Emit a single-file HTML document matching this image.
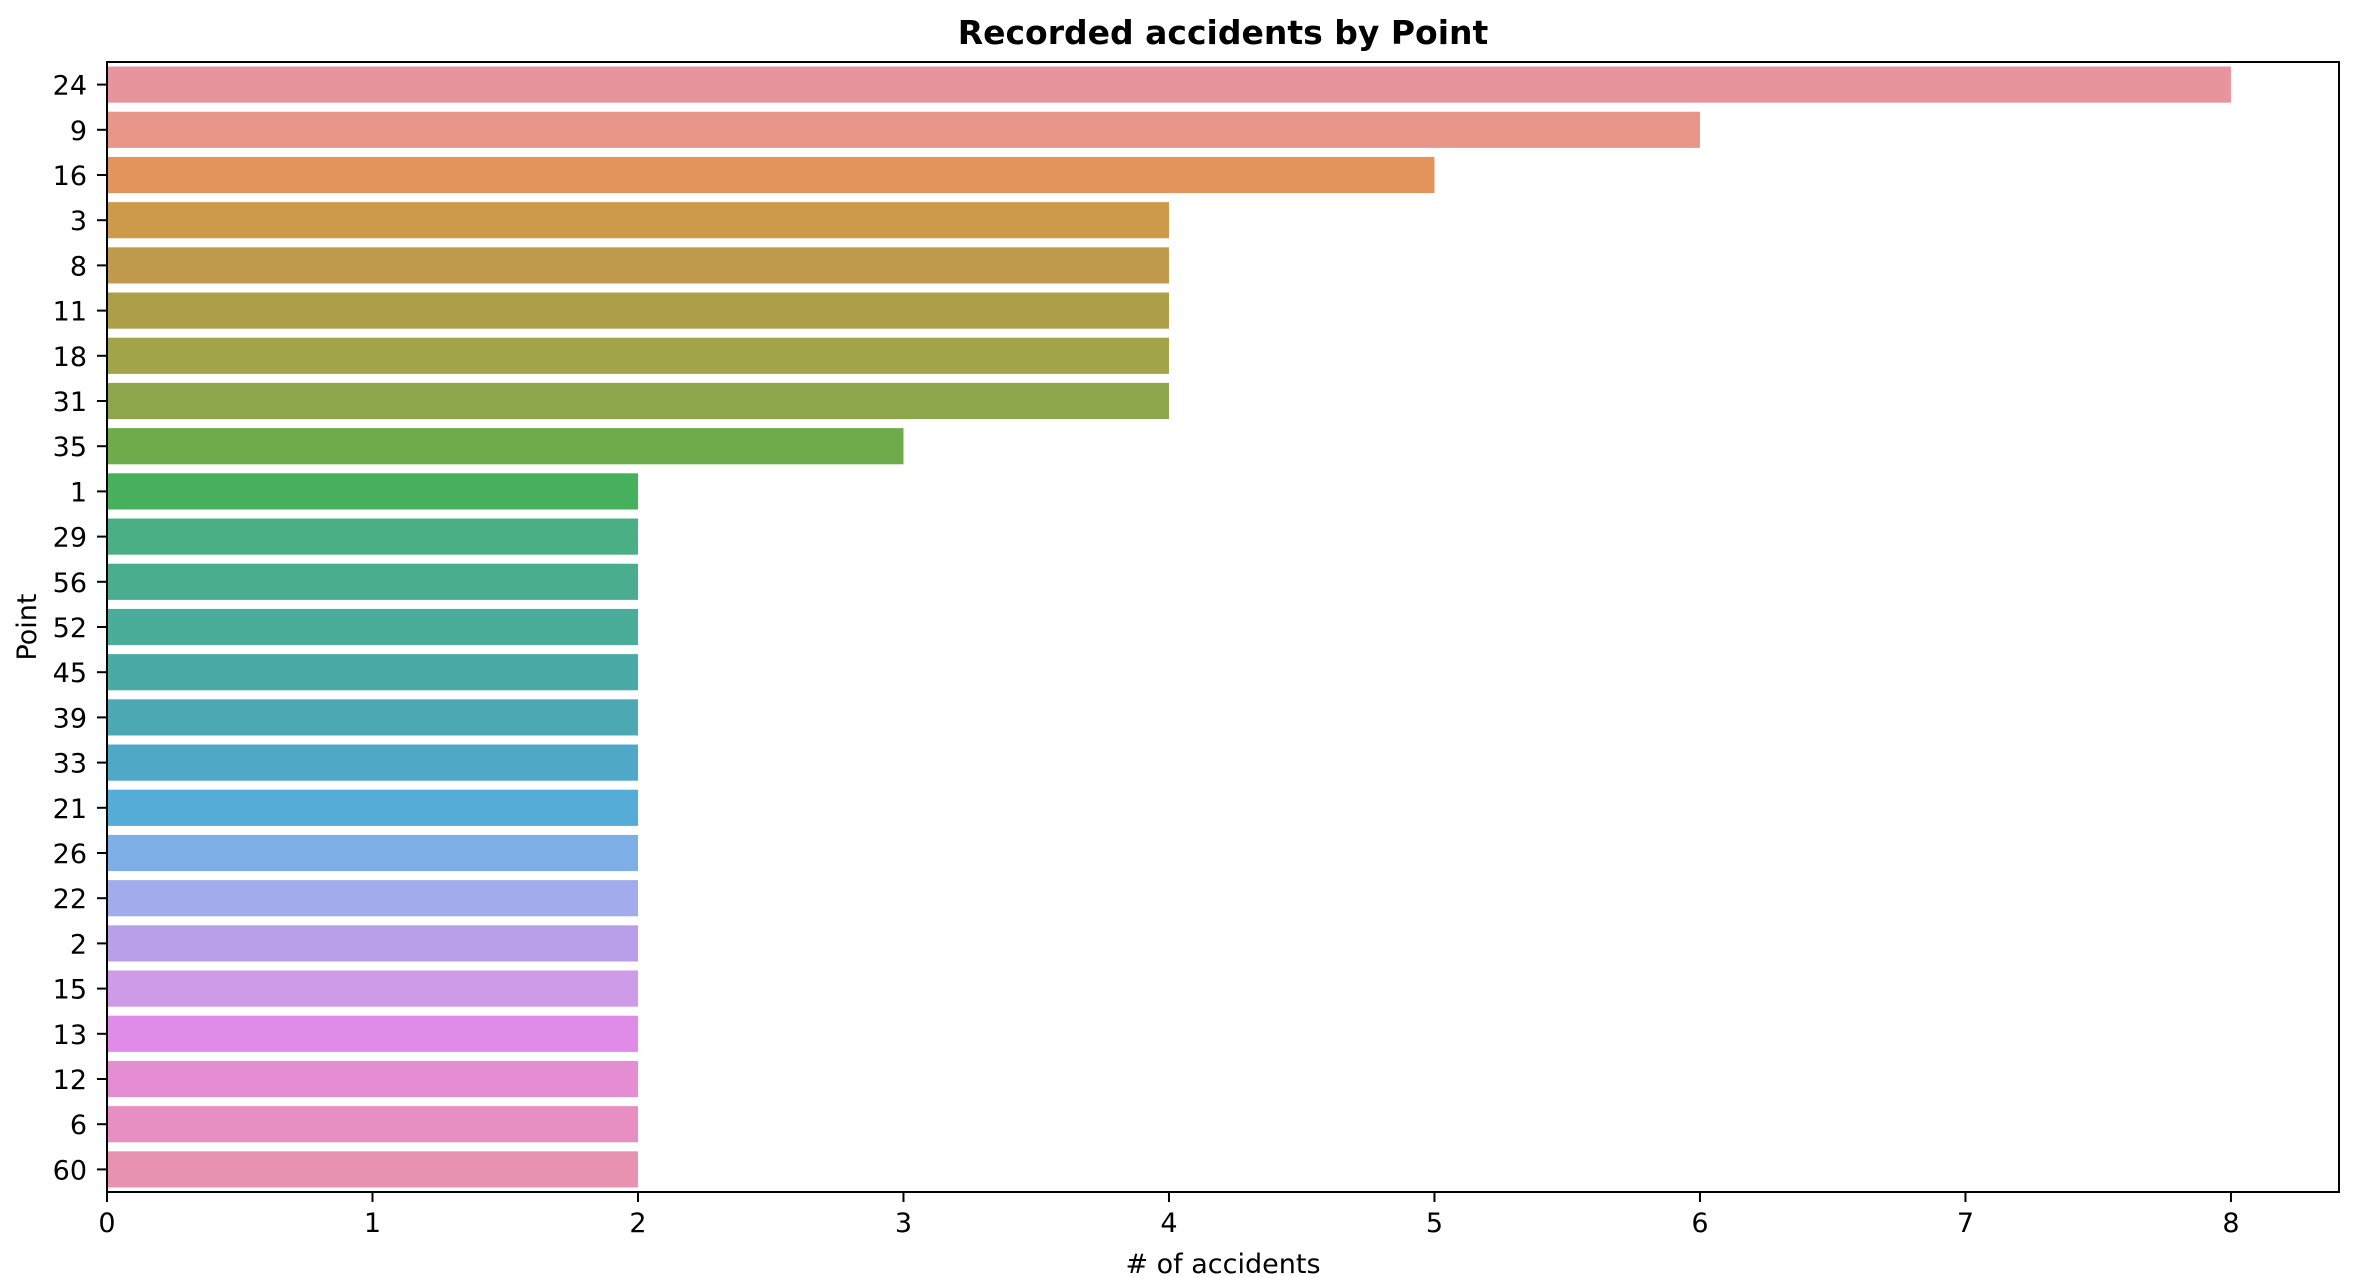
<!DOCTYPE html>
<html><head><meta charset="utf-8"><style>
body{margin:0;background:#fff;}
svg{display:block;font-family:"DejaVu Sans","Liberation Sans",sans-serif;}
</style></head><body>
<svg id="chart" width="2354" height="1277"></svg>
<script>
const categories=["24","9","16","3","8","11","18","31","35","1","29","56","52","45","39","33","21","26","22","2","15","13","12","6","60"];
const values=[8,6,5,4,4,4,4,4,3,2,2,2,2,2,2,2,2,2,2,2,2,2,2,2,2];
const colors=["#e8949e","#e8968a","#e3935c","#cd994a","#bf9a4d","#ad9f4a","#a1a449","#8ea64b","#6fab4a","#47b05c","#4aaf84","#4aad8f","#49ad9a","#4aaaa5","#4ca8b3","#4fa9c6","#55acd6","#7daee5","#a2abeb","#b99fea","#cd9be8","#e18be9","#e48dd2","#e78fc2","#e892b1"];
const xTicks=[0,1,2,3,4,5,6,7,8];
const L=107,R=2339,T=62,B=1192,xMax=8.407;
const NS="http://www.w3.org/2000/svg";
const svg=document.getElementById('chart');
const xs=v=>L+(R-L)*v/xMax;
const step=(B-T)/categories.length;
const yc=i=>T+step*(i+0.5);
function mk(tag,attrs,parent){const e=document.createElementNS(NS,tag);for(const k in attrs)e.setAttribute(k,attrs[k]);(parent||svg).appendChild(e);return e;}
categories.forEach((c,i)=>{
  const r=mk('rect',{x:xs(0),y:yc(i)-step*0.4,width:xs(values[i])-xs(0),height:step*0.8,fill:colors[i]});
  
  
  const tk=mk('line',{x1:L-10,x2:L,y1:yc(i),y2:yc(i),stroke:'#000','stroke-width':2});
  
  
  const t=mk('text',{x:L-20,y:yc(i)+10,'text-anchor':'end','font-size':27});
  t.textContent=c;
  
  
});
xTicks.forEach(v=>{
  const tk=mk('line',{x1:xs(v),x2:xs(v),y1:B,y2:B+10,stroke:'#000','stroke-width':2});
  
  
  const t=mk('text',{x:xs(v),y:B+40,'text-anchor':'middle','font-size':27});
  t.textContent=v;
  
  
});
const fr=mk('rect',{x:L,y:T,width:R-L,height:B-T,fill:'none',stroke:'#000','stroke-width':2});


const ti=mk('text',{x:(L+R)/2,y:44,'text-anchor':'middle','font-size':33,'font-weight':'bold'});
ti.textContent='Recorded accidents by Point';


const xl=mk('text',{x:(L+R)/2,y:1273,'text-anchor':'middle','font-size':27});
xl.textContent='# of accidents';


const yl=mk('text',{x:36,y:(T+B)/2,'text-anchor':'middle','font-size':27,transform:'rotate(-90 36 '+((T+B)/2)+')'});
yl.textContent='Point';


</script>
</body></html>
